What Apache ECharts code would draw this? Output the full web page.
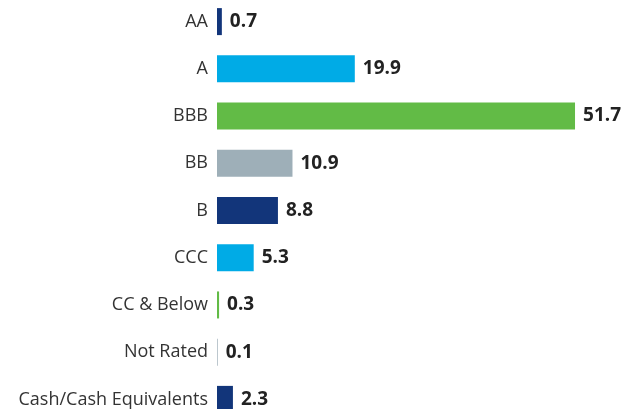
<!DOCTYPE html>
<html>
<head>
    <meta charset="utf-8">
    <script src="https://cdn.jsdelivr.net/npm/echarts@6/dist/echarts.min.js"></script>
    <style>
        html, body { margin: 0; padding: 0; background: #fff; overflow: hidden; }
        #main { position: absolute; left: 0; top: -2px; }
    </style>
</head>
<body>
<div id="main" style="width: 637px;height: 430px;"></div>
<script type="text/javascript">
    // 分类与数值
    var categories = ['AA', 'A', 'BBB', 'BB', 'B', 'CCC', 'CC & Below', 'Not Rated', 'Cash/Cash Equivalents'];
    var values = [0.7, 19.9, 51.7, 10.9, 8.8, 5.3, 0.3, 0.1, 2.3];
    var colors = ['#12357a', '#00abe6', '#62bb46', '#9eafb8', '#12357a', '#00abe6', '#62bb46', '#9eafb8', '#12357a'];

    var barData = [];
    for (var i = 0; i < values.length; i++) {
        barData.push({ value: values[i], itemStyle: { color: colors[i] } });
    }

    var myChart = echarts.init(document.getElementById('main'));
    var option = {
        animation: false,
        grid: {
            left: 217,
            top: 0,
            width: 415.5,
            height: 425
        },
        xAxis: {
            type: 'value',
            min: 0,
            max: 60,
            show: false
        },
        yAxis: {
            type: 'category',
            inverse: true,
            data: categories,
            axisLine: { show: false },
            axisTick: { show: false },
            axisLabel: {
                margin: 9,
                color: '#333',
                fontSize: 18,
                fontFamily: 'Open Sans'
            }
        },
        series: [{
            type: 'bar',
            data: barData,
            barWidth: 27,
            label: {
                show: true,
                position: 'right',
                distance: 8,
                color: '#222',
                fontSize: 19,
                fontWeight: 'bold',
                fontFamily: 'Open Sans',
                formatter: function (p) { return p.value.toFixed(1); }
            }
        }]
    };
    myChart.setOption(option);
</script>
</body>
</html>
